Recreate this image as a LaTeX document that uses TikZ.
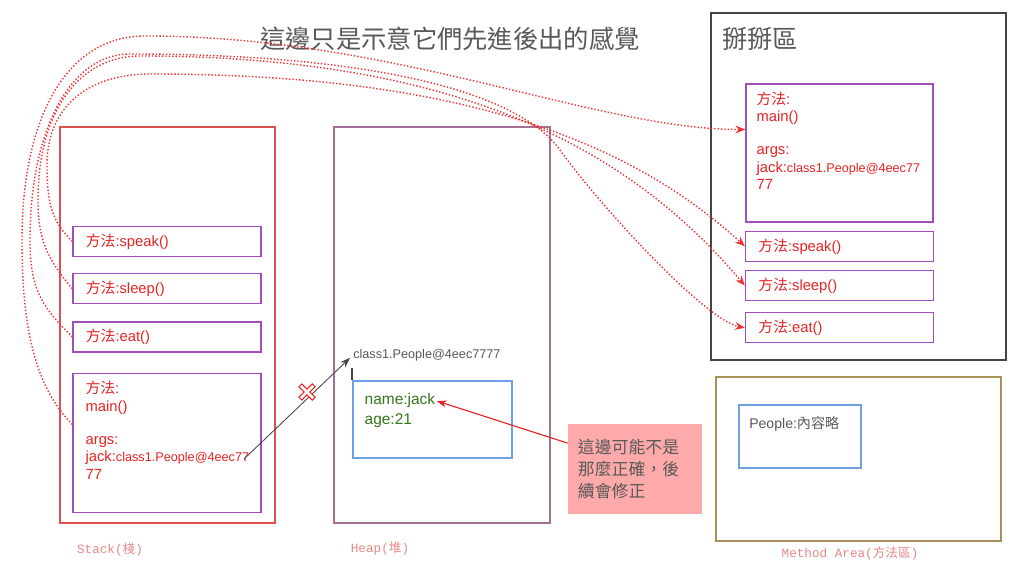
\documentclass[tikz,border=0pt]{standalone}
\usepackage{fontspec}
\setmainfont{Liberation Sans}
\setmonofont{Liberation Mono}
\newfontfamily\cjk{Noto Sans CJK TC}
\usetikzlibrary{positioning,calc,arrows.meta}

\definecolor{stackred}{RGB}{224,80,80}
\definecolor{framepurple}{RGB}{160,80,190}
\definecolor{heapmauve}{RGB}{165,112,150}
\definecolor{objblue}{RGB}{110,160,230}
\definecolor{areaolive}{RGB}{168,145,85}
\definecolor{byegray}{RGB}{68,68,68}
\definecolor{txtred}{RGB}{230,35,35}
\definecolor{txtgreen}{RGB}{56,118,29}
\definecolor{txtgray}{RGB}{89,89,89}
\definecolor{notepink}{RGB}{255,170,170}
\definecolor{labelpink}{RGB}{232,136,136}
\definecolor{flowred}{RGB}{240,50,50}

\newcommand\mainframetext{{\cjk 方法}:\\main()\\[11pt]args:\\jack:{\fontsize{9}{12.5}\selectfont class1.People@4eec77}\\77}

\begin{document}
\begin{tikzpicture}[x=0.025cm, y=-0.025cm,
    box/.style={rectangle, draw=framepurple, line width=0.9pt, inner sep=0pt},
    item/.style={box, minimum width=4.7cm, minimum height=0.75cm, text width=4.05cm, inner xsep=0.325cm, align=left, text=txtred, font=\fontsize{10.5}{12.5}\selectfont},
    area/.style={rectangle, line width=0.8pt, inner sep=0pt},
    flow/.style={draw=flowred, line width=1pt, dash pattern=on 1pt off 1.4pt, -{Stealth[length=7pt, width=5.5pt]}},
    caption/.style={font=\ttfamily\fontsize{9}{11}\selectfont, text=labelpink}]
    \fill[white] (0,0) rectangle (1024,576);
    \useasboundingbox (0,0) rectangle (1024,576);

    % Stack
    \node (stack) [area, draw=stackred, minimum width=5.375cm, minimum height=9.9cm] at (167.5,325) {};
    \node (sspeak) [item] at (167,241.5) {{\cjk 方法}:speak()};
    \node (ssleep) [item, below=0.4cm of sspeak] {{\cjk 方法}:sleep()};
    \node (seat) [item, below=0.425cm of ssleep] {{\cjk 方法}:eat()};
    \node (smain) [box, minimum width=4.7cm, minimum height=3.475cm, below=0.5cm of seat] {};
    \node (smaintext) [anchor=north west, inner sep=0pt, align=left, text=txtred, font=\fontsize{10.5}{12.5}\selectfont] at ([shift={(13,8)}]smain.north west) {\mainframetext};
    \coordinate (jackref) at (244,459);
    \node (stacklabel) [caption] at (110,549) {Stack({\cjk 棧})};

    % Heap
    \node (heap) [area, draw=heapmauve, minimum width=5.4cm, minimum height=9.9cm] at (442,325) {};
    \node (hobj) [area, draw=objblue, minimum width=3.975cm, minimum height=1.925cm] at (432.5,419.5) {};
    \node (haddr) [anchor=west, inner sep=0pt, text=txtgray, font=\fontsize{9}{11}\selectfont] at (353,355) {class1.People@4eec7777};
    \node (hname) [anchor=west, inner sep=1pt, text=txtgreen, font=\fontsize{11}{13}\selectfont] at (363,401) {name:jack};
    \node (hage) [anchor=west, inner sep=1pt, text=txtgreen, font=\fontsize{11}{13}\selectfont] at (363,421) {age:21};
    \draw [byegray, line width=1.5pt, shorten >=5pt] (hobj.north west) -- (hobj.north west |- haddr.south);
    \node (heaplabel) [caption] at (380,549) {Heap({\cjk 堆})};
    \draw [-{Stealth[length=7pt, width=5pt]}, byegray, line width=0.6pt, shorten >=3pt] (jackref) -- (haddr.west);

    % Cross on the old reference
    \draw [txtred, line width=3.6pt] (300,385) -- (314,399);
    \draw [txtred, line width=3.6pt] (300,399) -- (314,385);
    \draw [white, line width=2pt, shorten <=0.8pt, shorten >=0.8pt] (300,385) -- (314,399);
    \draw [white, line width=2pt, shorten <=0.8pt, shorten >=0.8pt] (300,399) -- (314,385);

    % Note
    \node (note) [fill=notepink, minimum width=3.35cm, minimum height=2.25cm, text width=2.85cm, inner xsep=0.25cm, inner ysep=0pt, align=left, text=txtgray, font=\cjk\fontsize{12}{15.5}\selectfont] at (635,469) {這邊可能不是\\那麼正確，後\\續會修正};
    \draw [-{Stealth[length=7pt, width=5pt]}, txtred, line width=0.8pt] (note.159) -- (hname.east);

    % Method Area
    \node (marea) [area, draw=areaolive, minimum width=7.125cm, minimum height=4.1cm] at (858.5,459) {};
    \node (mpeople) [area, draw=objblue, minimum width=3.05cm, minimum height=1.575cm] at (800,436.5) {};
    \node (mpeopletext) [anchor=west, inner sep=0pt, text=txtgray, font=\fontsize{10}{12}\selectfont] at (749,424) {People:{\cjk 內容略}};
    \node (marealabel) [caption] at (850,553) {Method Area({\cjk 方法區})};

    % Bye area
    \node (bye) [area, draw=byegray, line width=0.9pt, minimum width=7.375cm, minimum height=8.675cm] at (858.5,186.5) {};
    \node (byetitle) [anchor=west, inner sep=0pt, text=txtgray, font=\cjk\fontsize{18}{20}\selectfont] at (722,39) {掰掰區};
    \node (rmain) [box, minimum width=4.675cm, minimum height=3.45cm] at (839.5,153) {};
    \node (rmaintext) [anchor=north west, inner sep=0pt, align=left, text=txtred, font=\fontsize{10.5}{12.5}\selectfont] at ([shift={(11,8)}]rmain.north west) {\mainframetext};
    \node (rspeak) [item, below=0.2cm of rmain] {{\cjk 方法}:speak()};
    \node (rsleep) [item, below=0.2cm of rspeak] {{\cjk 方法}:sleep()};
    \node (reat) [item, below=0.275cm of rsleep] {{\cjk 方法}:eat()};

    % Title
    \node (title) [text=txtgray, font=\cjk\fontsize{18}{20}\selectfont] at (450,39) {這邊只是示意它們先進後出的感覺};

    % Last in, first out
    \draw [flow] (smain.169) .. controls +(-40,-40) and +(0,80) .. (22,240) .. controls +(0,-120) and +(-80,0) .. (145,36) .. controls +(250,0) and +(-150,0) .. (rmain.166);
    \draw [flow] (sspeak.west) .. controls +(-20,-20) and +(0,40) .. (47,165) .. controls +(0,-60) and +(-60,0) .. (150,74) .. controls +(300,0) and +(-120,-110) .. (rspeak.west);
    \draw [flow] (ssleep.west) .. controls +(-25,-30) and +(0,40) .. (38,200) .. controls +(0,-90) and +(-60,0) .. (140,56) .. controls +(330,0) and +(-110,-130) .. (rsleep.west);
    \draw [flow] (seat.west) .. controls +(-30,-30) and +(0,50) .. (30,240) .. controls +(0,-110) and +(-60,0) .. (130,54) .. controls +(250,0) and +(-40,-56) .. (560,150) .. controls +(40,56) and +(-40,-8) .. (reat.west);
\end{tikzpicture}
\end{document}
